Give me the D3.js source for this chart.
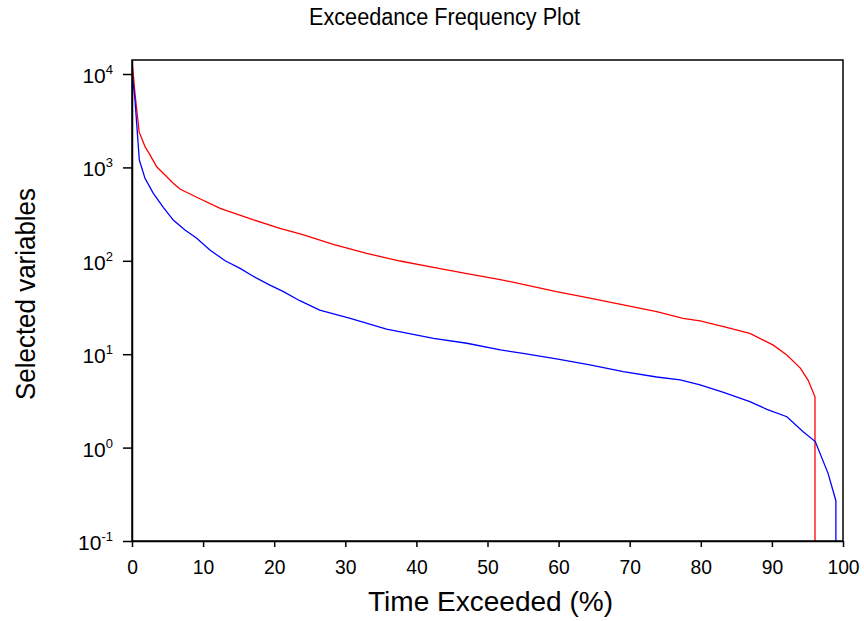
<!DOCTYPE html>
<html>
<head>
<meta charset="utf-8">
<script src="https://cdn.jsdelivr.net/npm/d3@7"></script>
<style>
  body { margin: 0; background: #fff; }
  svg text { font-family: "Liberation Sans Narrow", "Liberation Sans", Arial, sans-serif; fill: #000; }
</style>
</head>
<body>
<div id="chart"></div>
<script>
// percent of time exceeded vs value, two series
var redX = [0, 0.42, 1.0, 1.83, 2.53, 3.47, 4.4, 5.8, 6.75, 9.1, 12.4, 17.1, 20.8, 23.9, 28.3, 33, 37.7, 42.4, 47.1, 51.8, 55, 59.7, 64.4, 69.1, 73.8, 77.5, 79.9, 83.2, 86.9, 90.2, 92.1, 94, 95.1, 96.06, 96.06]
var redY = [14000, 6200, 2400, 1670, 1360, 1016, 865, 677, 587, 479, 365, 274, 223, 192, 150, 120, 99.5, 85, 73, 63, 56, 46.7, 39.8, 33.7, 28.5, 24.2, 22.7, 19.7, 16.7, 12.5, 9.8, 7.1, 5.25, 3.5, 0.1]
var blueX = [0, 0.42, 1.03, 1.83, 3, 4.4, 5.8, 7.45, 9.1, 11, 13.1, 15.2, 17.1, 19.4, 21.3, 23.6, 26.4, 30.7, 35.8, 42.4, 47.1, 51.8, 55, 59.7, 64.4, 69.1, 73.8, 77.1, 79.9, 83.2, 86.9, 89.3, 92.1, 94.4, 96.1, 97.9, 99.0, 99.0]
var blueY = [10600, 5250, 1200, 764, 528, 374, 273, 214, 174, 130, 100, 83, 68, 55, 46.7, 37.4, 29.7, 24.2, 18.6, 14.8, 13.1, 11.1, 10.2, 8.9, 7.7, 6.5, 5.7, 5.3, 4.7, 3.9, 3.1, 2.57, 2.14, 1.48, 1.16, 0.53, 0.27, 0.1]
var xTicks = [0, 10, 20, 30, 40, 50, 60, 70, 80, 90, 100]
var yTicks = [0.1, 1, 10, 100, 1000, 10000]

var W = 864, H = 621
var margin = {top: 60, right: 21, bottom: 80, left: 132}
var width = W - margin.left - margin.right,
    height = H - margin.top - margin.bottom

var svg = d3.select("#chart").append("svg")
    .attr("width", W).attr("height", H)

var g = svg.append("g")
    .attr("transform", "translate(" + margin.left + "," + margin.top + ")")

var x = d3.scaleLinear().domain([0, 100]).range([0, width])
var y = d3.scaleLog().domain([0.1, Math.pow(10, 4.15)]).range([height, 0])

g.append("clipPath").attr("id", "clip")
    .append("rect").attr("width", width).attr("height", height)

var line = d3.line()
    .x(function(d){ return x(d[0]) })
    .y(function(d){ return y(d[1]) })

var series = [
    {color: "#ff0000", pts: redX.map(function(v, i){ return [v, redY[i]] })},
    {color: "#0000ff", pts: blueX.map(function(v, i){ return [v, blueY[i]] })}
]

g.append("g").attr("clip-path", "url(#clip)")
    .selectAll("path").data(series).enter()
    .append("path")
    .attr("d", function(d){ return line(d.pts) })
    .attr("fill", "none")
    .attr("stroke", function(d){ return d.color })
    .attr("stroke-width", 1.3)

// x axis
var xg = g.append("g")
    .attr("transform", "translate(0," + height + ")")
    .call(d3.axisBottom(x).tickValues(xTicks).tickSize(6).tickSizeOuter(0).tickPadding(12))
xg.selectAll("text").attr("font-size", 21).style("font-family", "Liberation Sans, Arial, sans-serif")
    .attr("transform", "scale(0.92,1)")
xg.selectAll("line, path").attr("stroke", "#000").attr("stroke-width", 1.5)

// y axis with 10^n labels
var yg = g.append("g")
    .call(d3.axisLeft(y).tickValues(yTicks).tickSize(9).tickSizeOuter(0).tickPadding(10))
yg.selectAll("line, path").attr("stroke", "#000").attr("stroke-width", 1.5)
yg.selectAll(".tick text")
    .text(null)
    .attr("font-size", 21)
    .attr("dy", "0.4em")
    .style("font-family", "Liberation Sans, Arial, sans-serif")
    .each(function(d){
        var t = d3.select(this)
        t.append("tspan").text("10")
        t.append("tspan").attr("dy", -9).attr("font-size", 13).text(Math.round(Math.log10(d)))
    })

// frame
g.append("rect")
    .attr("width", width).attr("height", height)
    .attr("fill", "none").attr("stroke", "#000").attr("stroke-width", 1.5)

// titles
svg.append("text")
    .attr("x", 444.5).attr("y", 25)
    .attr("text-anchor", "middle")
    .attr("font-size", 23)
    .attr("textLength", 271).attr("lengthAdjust", "spacingAndGlyphs")
    .text("Exceedance Frequency Plot")

svg.append("text")
    .attr("x", 490.5).attr("y", 611)
    .attr("text-anchor", "middle")
    .attr("font-size", 27)
    .attr("textLength", 245).attr("lengthAdjust", "spacingAndGlyphs")
    .text("Time Exceeded (%)")

svg.append("text")
    .attr("transform", "translate(35,294) rotate(-90)")
    .attr("text-anchor", "middle")
    .attr("font-size", 28)
    .attr("textLength", 212).attr("lengthAdjust", "spacingAndGlyphs")
    .style("font-family", "Liberation Sans, Arial, sans-serif")
    .text("Selected variables")
</script>
</body>
</html>
